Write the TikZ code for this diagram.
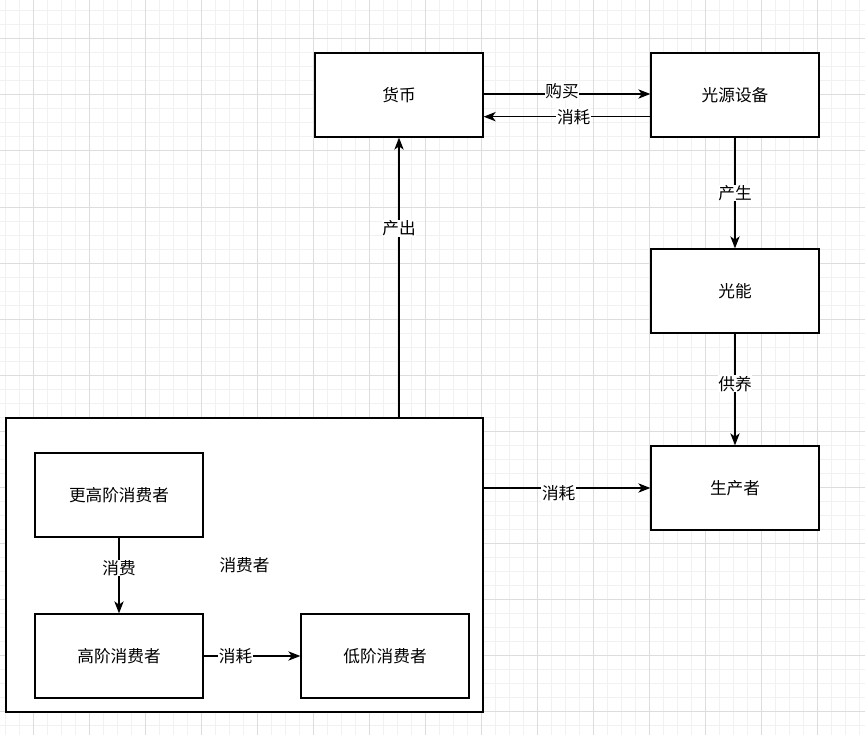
\documentclass[tikz,border=0pt]{standalone}
\usepackage{fontspec}
\setmainfont{Noto Sans CJK SC}
\usepackage{tikz}
\usetikzlibrary{arrows.meta,calc,positioning}

\definecolor{minorgray}{RGB}{241,241,241}
\definecolor{majorgray}{RGB}{221,221,221}

\begin{document}
\begin{tikzpicture}[x=0.75pt,y=-0.75pt,
  box/.style={draw,line width=1pt,fill=white,minimum width=126pt,minimum height=63pt,
    font=\fontsize{12.5}{14}\selectfont,inner sep=0pt},
  arr/.style={line width=0.9pt,-{Stealth[length=9pt,width=7pt,inset=2.5pt]}},
  lbl/.style={fill=white,inner sep=0.5pt,font=\fontsize{12.5}{14}\selectfont}]
\useasboundingbox (0,0) rectangle (865,735);
\fill[white] (0,0) rectangle (865,735);

% Background grid
\foreach \gx in {5.3,19.3,...,865} \draw[minorgray,line width=0.75pt] (\gx,0) -- (\gx,735);
\foreach \gy in {11,25,...,735} \draw[minorgray,line width=0.75pt] (0,\gy) -- (865,\gy);
\foreach \gx in {33.3,89.3,...,865} \draw[majorgray,line width=0.75pt] (\gx,0) -- (\gx,735);
\foreach \gy in {39,95,...,735} \draw[majorgray,line width=0.75pt] (0,\gy) -- (865,\gy);

% Top row
\node[box] (huobi) at (399,95) {货币};
\node[box] (shebei) at (735,95) {光源设备};
\node[box] (guangneng) at (735,291) {光能};
\node[box] (shengchan) at (735,488) {生产者};

% Consumers
\node[box,minimum width=357.75pt,minimum height=220.5pt] (cons) at (244.5,565) {消费者};
\node[box] (genggao) at (119,495) {更高阶消费者};
\node[box] (gaojie) at (119,656) {高阶消费者};
\node[box] (dijie) at (385,656) {低阶消费者};

% Connectors
\draw[arr] ([yshift=0.75pt]huobi.east) -- ([yshift=0.75pt]shebei.west)
  node[lbl,pos=0.47,yshift=2pt] {购买};
\draw[arr] ([yshift=15.75pt]shebei.south west) -- ([yshift=15.75pt]huobi.south east)
  node[lbl,pos=0.46] {消耗};
\draw[arr] (shebei.south) -- (guangneng.north) node[lbl,midway] {产生};
\draw[arr] (guangneng.south) -- (shengchan.north) node[lbl,pos=0.45] {供养};
\draw[arr] (huobi.south |- cons.north) -- (huobi.south) node[lbl,pos=0.676] {产出};
\draw[arr] (cons.east |- shengchan.west) -- (shengchan.west)
  node[lbl,pos=0.45,yshift=-4pt] {消耗};
\draw[arr] (genggao.south) -- (gaojie.north) node[lbl,pos=0.4] {消费};
\draw[arr] (gaojie.east) -- (dijie.west) node[lbl,pos=0.33] {消耗};
\end{tikzpicture}
\end{document}
